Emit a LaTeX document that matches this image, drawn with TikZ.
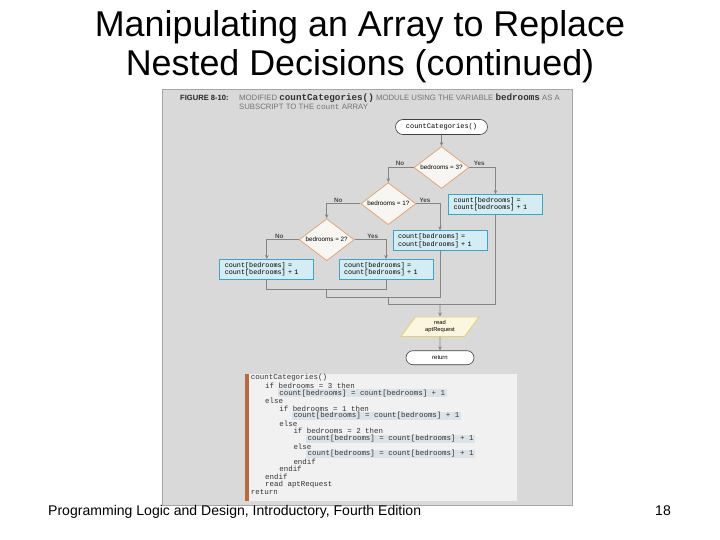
\documentclass[tikz,border=0pt]{standalone}
\usepackage{fontspec}
\setmainfont{Liberation Sans}
\newfontfamily\codefont{Liberation Mono}
\usetikzlibrary{positioning, arrows.meta, shapes.geometric, shapes.misc}
\definecolor{panelgray}{HTML}{D9D9D9}
\definecolor{lineg}{HTML}{858585}
\definecolor{boxfill}{HTML}{D4ECF3}
\definecolor{boxedge}{HTML}{3FA3C4}
\definecolor{decedge}{HTML}{E2A677}
\definecolor{decfill}{HTML}{F7F6F2}
\definecolor{iofill}{HTML}{FBF7DE}
\definecolor{ioedge}{HTML}{E6CF7A}
\definecolor{codebg}{HTML}{F1F1F1}
\definecolor{codebar}{HTML}{B9693F}
\definecolor{hlrow}{HTML}{DCE3E8}

\begin{document}
\begin{tikzpicture}[x=1bp, y=-1bp, >={Stealth[length=4bp,width=3.5bp]},
    term/.style={rounded rectangle, draw=black!75, fill=white, line width=0.6bp, inner sep=0, minimum height=15bp},
    dec/.style={diamond, aspect=1.3, draw=decedge, fill=decfill, line width=0.8bp, inner sep=0,
      minimum width=55bp, minimum height=42bp, font=\fontsize{6.3}{7}\selectfont},
    proc/.style={rectangle, draw=boxedge, fill=boxfill, line width=0.8bp, text width=84bp, inner xsep=5bp,
      inner ysep=0, minimum height=19.5bp, align=left, font=\codefont\fontsize{6.8}{7.6}\selectfont},
    io/.style={trapezium, trapezium left angle=56, trapezium right angle=124, trapezium stretches=true,
      draw=ioedge, fill=iofill, line width=0.8bp, minimum width=78bp, minimum height=19.5bp, inner sep=0,
      align=center, font=\fontsize{5.8}{7.5}\selectfont},
    flow/.style={->, draw=lineg, line width=0.8bp},
    wire/.style={draw=lineg, line width=0.8bp},
    lbl/.style={anchor=south, inner sep=0, text=black!70, font=\fontsize{6.3}{7}\selectfont\bfseries},
    code/.style={anchor=west, inner xsep=1.5bp, inner ysep=0.8bp, text=black!80, font=\codefont\fontsize{7.5}{8}\selectfont}]
  \useasboundingbox[fill=white] (0,0) rectangle (720,540);
  % slide title
  \node[anchor=base, inner sep=0, font=\fontsize{36}{40}\selectfont] (title1) at (360,37) {Manipulating an Array to Replace};
  \node[anchor=base, inner sep=0, font=\fontsize{36}{40}\selectfont] (title2) at (360,76) {Nested Decisions (continued)};
  % figure panel
  \filldraw[fill=panelgray, draw=black!35] (162,89) rectangle (572,505);
  \node[anchor=base west, inner sep=0, text=black!85, font=\fontsize{7.6}{8}\selectfont\bfseries] (fig) at (180,100.5) {FIGURE 8-10:};
  \node[anchor=base west, inner sep=0, text=black!55, font=\fontsize{7.8}{8}\selectfont] (cap1) at (239,100.5)
    {MODIFIED {\codefont\bfseries\fontsize{9.3}{8}\selectfont\color{black!80}countCategories()} MODULE USING THE VARIABLE {\codefont\bfseries\fontsize{9.3}{8}\selectfont\color{black!80}bedrooms} AS A};
  \node[anchor=base west, inner sep=0, text=black!55, font=\fontsize{7.8}{8}\selectfont] (cap2) at (239,110)
    {SUBSCRIPT TO THE {\codefont\fontsize{7.8}{8}\selectfont count} ARRAY};
  % flowchart
  \node[term, minimum width=92bp, font=\codefont\fontsize{7}{8}\selectfont] (start) at (441.5,127) {countCategories()};
  \node[dec] (d1) at (441.5,167.5) {bedrooms = 3?};
  \node[proc] (b1) at (495.5,204.3) {count[bedrooms] =\\count[bedrooms] + 1};
  \node[dec] (d2) at (388.3,203.7) {bedrooms = 1?};
  \node[proc] (b2) at (440,240.5) {count[bedrooms] =\\count[bedrooms] + 1};
  \node[dec] (d3) at (326.7,239.7) {bedrooms = 2?};
  \node[proc] (b3) at (266.8,269.2) {count[bedrooms] =\\count[bedrooms] + 1};
  \node[proc] (b4) at (386,269.2) {count[bedrooms] =\\count[bedrooms] + 1};
  \node[io] (rd) at (440,326.7) {read\\aptRequest};
  \node[term, minimum width=68bp, minimum height=14bp, font=\fontsize{6}{7}\selectfont] (ret) at (440,357.7) {return};
  \node[lbl] (no1) at (400,166) {No};
  \node[lbl] (yes1) at (479.3,166) {Yes};
  \node[lbl] (no2) at (338.3,202.3) {No};
  \node[lbl] (yes2) at (425,202.3) {Yes};
  \node[lbl] (no3) at (279.3,238.3) {No};
  \node[lbl] (yes3) at (372.7,238.3) {Yes};
  \coordinate (j3) at (326.7,289.7);
  \coordinate (j2) at (388.3,297.3);
  \coordinate (j1) at (440,304.7);
  \draw[flow] (start) -- (d1);
  \draw[flow] (d1.west) -| (d2.north);
  \draw[flow] (d1.east) -| (b1.north);
  \draw[flow] (d2.west) -| (d3.north);
  \draw[flow] (d2.east) -| (b2.north);
  \draw[flow] (d3.west) -| (b3.north);
  \draw[flow] (d3.east) -| (b4.north);
  \draw[wire] (b3.south) |- (j3) -| (b4.south);
  \draw[wire] (j3) |- (j2);
  \draw[wire] (b2.south) |- (j2);
  \draw[wire] (j2) |- (j1);
  \draw[wire] (b1.south) |- (j1);
  \draw[flow] (j1) -- (rd);
  \draw[flow] (rd) -- (ret);
  % pseudocode
  \fill[codebg] (245,374) rectangle (517,501);
  \fill[codebar] (245,374) rectangle (249,501);
  \foreach \ind/\bg/\txt [count=\i] in {0/codebg/countCategories(), 1/codebg/if bedrooms = 3 then,
      2/hlrow/count[bedrooms] = count[bedrooms] + 1, 1/codebg/else, 2/codebg/if bedrooms = 1 then,
      3/hlrow/count[bedrooms] = count[bedrooms] + 1, 2/codebg/else, 3/codebg/if bedrooms = 2 then,
      4/hlrow/count[bedrooms] = count[bedrooms] + 1, 3/codebg/else,
      4/hlrow/count[bedrooms] = count[bedrooms] + 1, 3/codebg/endif, 2/codebg/endif,
      1/codebg/endif, 1/codebg/read aptRequest, 0/codebg/return}
    \node[code, fill=\bg] (c\i) at ({249.2+14.2*\ind},{378+7.6*(\i-1)}) {\txt};
  % footer
  \node[anchor=base west, inner sep=0, font=\fontsize{14.1}{16}\selectfont] (foot) at (48,515.5) {Programming Logic and Design, Introductory, Fourth Edition};
  \node[anchor=base west, inner sep=0, font=\fontsize{14.1}{16}\selectfont] (page) at (655,515.5) {18};
\end{tikzpicture}
\end{document}
